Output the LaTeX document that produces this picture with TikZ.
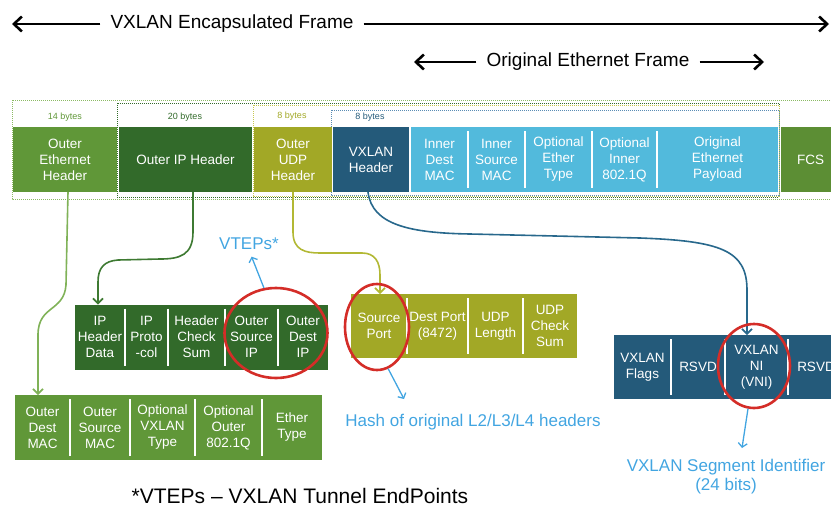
\documentclass[tikz,border=0pt]{standalone}
\usepackage{fontspec}
\setmainfont{Liberation Sans}
\usetikzlibrary{arrows.meta,shapes.geometric}

\definecolor{ethgreen}{RGB}{96,151,56}
\definecolor{fcsgreen}{RGB}{92,142,52}
\definecolor{ipgreen}{RGB}{50,106,42}
\definecolor{udpolive}{RGB}{162,168,38}
\definecolor{vxblue}{RGB}{36,90,122}
\definecolor{innerblue}{RGB}{82,186,220}
\definecolor{noteblue}{RGB}{66,165,225}
\definecolor{ringred}{RGB}{212,45,40}
\definecolor{ethline}{RGB}{128,178,88}
\definecolor{ipline}{RGB}{62,122,50}
\definecolor{udpline}{RGB}{178,184,52}
\definecolor{vxline}{RGB}{40,104,140}
\definecolor{frameouter}{RGB}{140,186,100}
\definecolor{frameudp}{RGB}{200,200,80}
\definecolor{framevx}{RGB}{90,140,180}

\newcommand\boxtextfont{\fontsize{13.5}{16}\selectfont}
\newcommand\notefont{\fontsize{17}{19}\selectfont}
\newcommand\splitafter[1]{\draw[divider] ([yshift=-4pt]#1.north east) -- ([yshift=4pt]#1.south east);}

\tikzset{
  cell/.style={fill=#1, text=white, minimum height=65pt, inner sep=0pt,
    outer sep=0pt, align=center, font=\boxtextfont},
  divider/.style={white, line width=1.6pt},
  frame/.style={draw=#1, line width=0.9pt, dash pattern=on 1pt off 1pt},
  bytes/.style={font=\fontsize{9}{10}\selectfont, inner sep=0pt},
  toplabel/.style={font=\fontsize{19}{22}\selectfont, inner sep=0pt},
  bigarrow/.style={line width=2.6pt, shorten <=10pt,
    -{Straight Barb[length=8pt,width=15pt]}},
  conn/.style={draw=#1, line width=1.6pt,
    -{Straight Barb[length=5pt,width=10pt]}},
  ring/.style={ellipse, draw=ringred, line width=2.6pt, inner sep=0pt},
  note/.style={text=noteblue, font=\notefont, inner sep=0pt, align=center},
  annot/.style={draw=noteblue, line width=1.3pt,
    -{Straight Barb[length=4pt,width=9pt]}}
}

\begin{document}
\begin{tikzpicture}[x=1pt,y=-1pt]
\useasboundingbox (0,0) rectangle (831,507);
\clip (0,0) rectangle (831,507);

% title arrows
\node[toplabel] (encap) at (232,24) {VXLAN Encapsulated Frame};
\coordinate (encapL) at (12,24);
\coordinate (encapR) at (829,24);
\draw[bigarrow] (encap.west) -- (encapL);
\draw[bigarrow] (encap.east) -- (encapR);

\node[toplabel] (orig) at (588,62) {Original Ethernet Frame};
\coordinate (origL) at (414,62);
\coordinate (origR) at (764,62);
\draw[bigarrow] (orig.west) -- (origL);
\draw[bigarrow] (orig.east) -- (origR);

% dotted frames of the nested headers
\draw[frame=frameouter] (12,100) rectangle (850,199);
\draw[frame=ipgreen]    (117,103) rectangle (779,197);
\draw[frame=frameudp]   (253,105) rectangle (779,196);
\draw[frame=framevx]    (331,110) rectangle (779,195);

% header sizes
\node[bytes, text=ethgreen] (b14) at (65,117) {14 bytes};
\node[bytes, text=ipgreen] (b20) at (185,117) {20 bytes};
\node[bytes, text=udpolive] (b8u) at (292,116) {8 bytes};
\node[bytes, text=vxblue] (b8v) at (370,117) {8 bytes};

% encapsulated frame
\node[cell=ethgreen, minimum width=104pt] (oeth) at (65,159.5) {Outer\\Ethernet\\Header};
\node[cell=ipgreen, minimum width=133pt] (oip) at (185.5,159.5) {Outer IP Header};
\node[cell=udpolive, minimum width=78pt] (oudp) at (293,159.5) {Outer\\UDP\\Header};
\node[cell=vxblue, minimum width=76pt] (vxh) at (371,159.5) {VXLAN\\Header};
\node[cell=innerblue, minimum width=57pt] (idmac) at (439.5,159.5) {Inner\\Dest\\MAC};
\node[cell=innerblue, minimum width=57pt] (ismac) at (496.5,159.5) {Inner\\Source\\MAC};
\node[cell=innerblue, minimum width=67pt] (oetype) at (558.5,159.5) {Optional\\Ether\\Type};
\node[cell=innerblue, minimum width=65pt] (oiq) at (624.5,159.5) {Optional\\Inner\\802.1Q};
\node[cell=innerblue, minimum width=121pt] (payload) at (717.5,159.5) {Original\\Ethernet\\Payload};
\node[cell=fcsgreen, minimum width=59pt] (fcs) at (810.5,159.5) {FCS};
\splitafter{idmac}
\splitafter{ismac}
\splitafter{oetype}
\splitafter{oiq}

% outer IP header fields
\node[cell=ipgreen, minimum width=50pt] (ipd) at (100,337) {IP\\Header\\Data};
\node[cell=ipgreen, minimum width=43pt] (ipp) at (146.5,337) {IP\\Proto\\-col};
\node[cell=ipgreen, minimum width=57pt] (ipc) at (196.5,337) {Header\\Check\\Sum};
\node[cell=ipgreen, minimum width=53pt] (ips) at (251.5,337) {Outer\\Source\\IP};
\node[cell=ipgreen, minimum width=50pt] (ipdst) at (303,337) {Outer\\Dest\\IP};
\splitafter{ipd}
\splitafter{ipp}
\splitafter{ipc}
\splitafter{ips}

% outer Ethernet header fields
\node[cell=ethgreen, minimum width=55pt] (em1) at (42.5,427.5) {Outer\\Dest\\MAC};
\node[cell=ethgreen, minimum width=60pt] (em2) at (100,427.5) {Outer\\Source\\MAC};
\node[cell=ethgreen, minimum width=65pt] (em3) at (162.5,427.5) {Optional\\VXLAN\\Type};
\node[cell=ethgreen, minimum width=67pt] (em4) at (228.5,427.5) {Optional\\Outer\\802.1Q};
\node[cell=ethgreen, minimum width=60pt] (em5) at (292,427.5) {Ether\\Type};
\splitafter{em1}
\splitafter{em2}
\splitafter{em3}
\splitafter{em4}

% outer UDP header fields
\node[cell=udpolive, minimum width=56pt, minimum height=64pt] (us) at (379,326) {Source\\Port};
\node[cell=udpolive, minimum width=61pt, minimum height=64pt] (ud) at (437.5,326) {Dest Port\\(8472)};
\node[cell=udpolive, minimum width=55pt, minimum height=64pt] (ul) at (495.5,326) {UDP\\Length};
\node[cell=udpolive, minimum width=54pt, minimum height=64pt] (uc) at (550,326) {UDP\\Check\\Sum};
\splitafter{us}
\splitafter{ud}
\splitafter{ul}

% VXLAN header fields
\node[cell=vxblue, minimum width=57pt, minimum height=64pt] (vf) at (642.5,367) {VXLAN\\Flags};
\node[cell=vxblue, minimum width=54pt, minimum height=64pt] (vr1) at (698,367) {RSVD};
\node[cell=vxblue, minimum width=63pt, minimum height=64pt] (vni) at (756.5,367) {VXLAN\\NI\\(VNI)};
\node[cell=vxblue, minimum width=56pt, minimum height=64pt] (vr2) at (816,367) {RSVD};
\splitafter{vf}
\splitafter{vr1}
\splitafter{vni}

% expansion connectors
\draw[conn=ethline] ([xshift=3pt]oeth.south) -- (66,285)
  .. controls (64,312) and (38,305) .. (38,335) -- ([xshift=-4.5pt]em1.north);
\draw[conn=ipline] ([xshift=7.5pt]oip.south) -- (193,232)
  .. controls (193,255) and (180,259) .. (160,259) -- (118,260)
  .. controls (104,261) and (98,268) .. (98,282) -- ([xshift=-2pt]ipd.north);
\draw[conn=udpline] (oudp.south) -- (293,232)
  .. controls (293,250) and (305,253) .. (320,253) -- (362,253)
  .. controls (375,253) and (380,262) .. (380,275) -- ([xshift=1pt]us.north);
\draw[conn=vxline] ([xshift=-3pt]vxh.south)
  .. controls (372,225) and (410,233) .. (470,234) -- (640,238)
  .. controls (720,241) and (747,250) .. (747,290) -- ([xshift=-9.5pt]vni.north);

% highlighted fields
\node[ring, minimum width=103pt, minimum height=90pt] (c1) at (276,333) {};
\node[ring, minimum width=64pt, minimum height=86pt] (c2) at (377,327) {};
\node[ring, minimum width=72pt, minimum height=84pt] (c3) at (754,366) {};

% notes
\node[note] (vteps) at (249,244) {VTEPs*};
\draw[annot, shorten >=7pt] (c1.105) -- (vteps.south);

\node[note] (hash) at (473,422) {Hash of original L2/L3/L4 headers};
\coordinate (hashtip) at (404,399);
\draw[annot] (c2.285) -- (hashtip);

\node[note] (segid) at (726,477) {VXLAN Segment Identifier\\(24 bits)};
\coordinate (segtip) at (742,448);
\draw[annot] (c3.262) -- (segtip);

\node[font=\fontsize{21}{24}\selectfont, inner sep=0pt] (legend) at (300,496)
  {*VTEPs – VXLAN Tunnel EndPoints};
\end{tikzpicture}
\end{document}
